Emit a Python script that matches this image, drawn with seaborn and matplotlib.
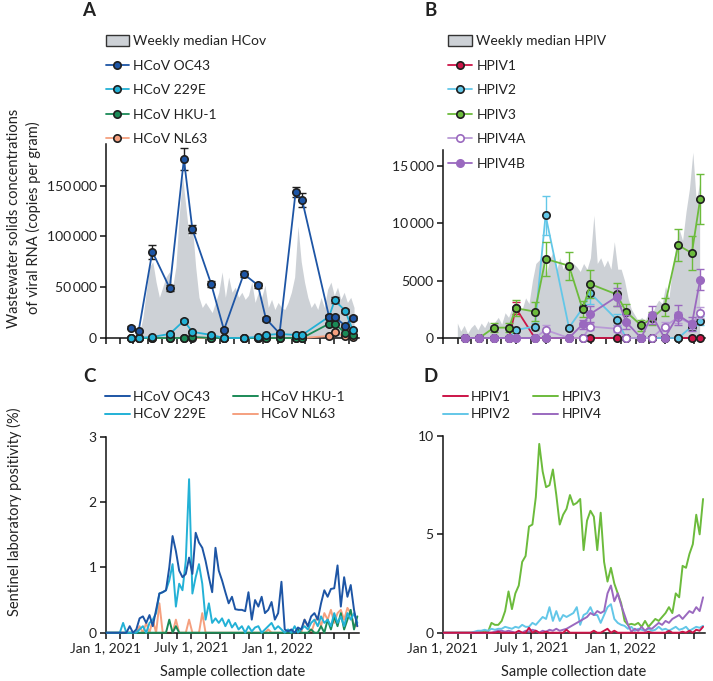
import numpy as np
import pandas as pd
import matplotlib
matplotlib.use("Agg")
import matplotlib.pyplot as plt
import matplotlib.dates as mdates
import seaborn as sns
from matplotlib.lines import Line2D
from matplotlib.patches import Patch

sns.set_theme(style="ticks")
plt.rcParams['font.family'] = ['Lato', 'DejaVu Sans']
plt.rcParams['axes.linewidth'] = 1.1

# ---------------- Panel A: wastewater HCoV ----------------
a_dates = pd.to_datetime([
    "2021-02-23", "2021-03-12", "2021-04-10", "2021-05-17", "2021-06-16", "2021-07-04",
    "2021-08-13", "2021-09-09", "2021-10-21", "2021-11-20", "2021-12-07", "2022-01-05",
    "2022-02-08", "2022-02-22", "2022-04-20", "2022-05-02", "2022-05-24", "2022-06-09"])
hcov_oc43 = [10000, 7000, 85000, 49000, 176000, 107000, 53000, 8000, 63000, 52000, 19000, 4500,
             143500, 135500, 21000, 21000, 12000, 20000]
hcov_oc43_err = [1500, 1200, 7000, 3000, 11000, 4000, 3000, 1500, 3000, 2500, 2000, 1000,
                 5000, 7000, 2000, 2000, 1500, 2000]
hcov_229e = [0, 0, 1000, 4000, 17000, 6000, 3000, 0, 0, 1000, 3000, 4000, 3000, 3000,
             21000, 37000, 27000, 8000]
hcov_229e_err = [0, 0, 300, 600, 1500, 800, 500, 0, 0, 300, 500, 600, 500, 500,
                 2000, 3000, 2000, 1000]
hcov_hku1 = [0, 0, 0, 0, 0, 1000, 0, 0, 0, 0, 0, 0, 0, 0, 14000, 14000, 5000, 3000]
hcov_nl63 = [0, 0, 0, 0, 0, 0, 0, 0, 0, 0, 0, 0, 0, 0, 2000, 5500, 1500, 1000]

a_gray_dates = pd.date_range("2021-03-07", periods=67, freq="7D")
a_gray = [0, 5, 20, 45, 70, 75, 55, 40, 50, 60, 65, 50, 70, 120, 160, 130, 100, 110, 70, 40,
          30, 35, 30, 25, 35, 45, 65, 40, 60, 45, 50, 40, 45, 38, 42, 55, 35, 45, 40, 52,
          30, 38, 28, 35, 30, 28, 35, 45, 60, 110, 75, 55, 40, 30, 35, 28, 40, 30, 48, 55,
          42, 50, 38, 45, 35, 40, 30]
a_gray = [v * 1000 for v in a_gray]

# ---------------- Panel B: wastewater HPIV ----------------
b_dates = pd.to_datetime([
    "2021-02-15", "2021-03-17", "2021-04-16", "2021-05-17", "2021-05-31", "2021-07-09",
    "2021-07-31", "2021-09-17", "2021-10-15", "2021-10-31", "2021-12-24", "2022-01-12",
    "2022-02-12", "2022-03-06", "2022-04-01", "2022-04-29", "2022-05-27", "2022-06-13"])
hpiv1 = [0, 0, 0, 0, 2600, 0, 0, 0, 0, 0, 0, 0, 0, 0, 0, 0, 0, 0]
hpiv1_err = [0, 0, 0, 0, 500, 0, 0, 0, 0, 0, 0, 0, 0, 0, 0, 0, 0, 0]
hpiv2 = [0, 0, 0, 0, 700, 1000, 10700, 900, 2600, 3900, 1600, 0, 0, 0, 0, 0, 1000, 1500]
hpiv2_err = [0, 0, 0, 0, 200, 300, 1700, 200, 300, 900, 500, 0, 0, 0, 0, 0, 300, 400]
hpiv3 = [0, 0, 900, 900, 2600, 2300, 6900, 6300, 2500, 4700, 3800, 2300, 1100, 1700, 2700,
         8100, 7400, 12100]
hpiv3_err = [0, 0, 400, 400, 700, 800, 1500, 1200, 700, 1200, 1000, 700, 500, 600, 800,
             1400, 1500, 2200]
hpiv4a = [0, 0, 0, 0, 0, 0, 700, 0, 0, 1000, 800, 0, 0, 0, 1000, 1800, 1200, 2200]
hpiv4a_err = [0, 0, 0, 0, 0, 0, 400, 0, 0, 300, 300, 0, 0, 0, 400, 500, 400, 500]
hpiv4b = [0, 0, 0, 0, 0, 0, 0, 0, 1200, 2100, 3600, 1400, 0, 2000, 0, 2000, 1200, 5100]
hpiv4b_err = [0, 0, 0, 0, 0, 0, 0, 0, 400, 700, 800, 600, 0, 800, 0, 900, 600, 900]

b_gray_dates = pd.date_range("2021-01-31", periods=72, freq="7D")
b_gray = [1300, 600, 1100, 400, 900, 1200, 700, 1300, 900, 1500, 1000, 1400, 1800, 1200,
          2200, 1800, 2600, 2000, 3000, 2500, 3500, 3000, 5000, 6500, 6800, 7200, 5500, 6800,
          7500, 5800, 7000, 6000, 6800, 5500, 6500, 6200, 5800, 6500, 6000, 7000, 10700, 6500,
          7000, 6200, 6800, 6000, 8400, 6000, 6000, 5000, 3500, 2500, 2000, 1500, 1800, 1500,
          2200, 2000, 2800, 3300, 3000, 4500, 3500, 6000, 8000, 9500, 8500, 11000, 13000,
          16200, 12000, 13500]

# ---------------- Panels C and D: sentinel positivity ----------------
weeks = pd.date_range("2021-01-03", periods=77, freq="7D")
pos_oc43 = [0, 0, 0, 0, 0, 0, 0, 0.1, 0.0, 0.05, 0.22, 0.25, 0.15, 0.27, 0.1, 0.35, 0.6, 0.62,
            0.65, 1.0, 1.48, 1.25, 0.95, 0.85, 0.9, 1.15, 0.9, 1.53, 1.38, 1.3, 1.1, 0.85,
            0.62, 1.3, 0.95, 0.8, 0.62, 0.45, 0.55, 0.36, 0.35, 0.35, 0.33, 0.62, 0.2, 0.5,
            0.4, 0.55, 0.3, 0.35, 0.47, 0.2, 0.3, 0.78, 0.05, 0.02, 0.05, 0, 0.08, 0.05, 0.2,
            0.1, 0.25, 0.3, 0.2, 0.45, 0.65, 0.55, 0.67, 0.68, 1.03, 0.4, 0.85, 0.55, 0.73,
            0.35, 0.1]
pos_229e = [0, 0, 0, 0, 0, 0.15, 0, 0, 0, 0, 0.05, 0.1, 0, 0.15, 0.2, 0.3, 0.6, 0.62, 0.65,
            0.8, 1.05, 0.4, 0.75, 0.65, 1.1, 2.35, 0.6, 0.85, 1.05, 0.75, 0.2, 0.45, 0.15,
            0.22, 0.15, 0.22, 0.1, 0.2, 0.08, 0.15, 0.05, 0.1, 0, 0.1, 0.02, 0.08, 0.1, 0,
            0.05, 0.1, 0.15, 0.05, 0.1, 0.05, 0, 0.05, 0, 0.1, 0, 0.05, 0.1, 0.05, 0.15, 0.2,
            0.1, 0.25, 0.15, 0.2, 0.1, 0.3, 0.15, 0.25, 0.1, 0.3, 0.2, 0.3, 0.15]
pos_hku1 = [0, 0, 0, 0, 0, 0, 0, 0, 0, 0, 0, 0, 0, 0, 0, 0, 0, 0, 0, 0.2, 0, 0.1, 0, 0, 0,
            0, 0, 0, 0, 0, 0, 0, 0, 0, 0, 0, 0, 0, 0, 0, 0, 0, 0, 0, 0, 0, 0, 0, 0, 0, 0, 0,
            0, 0, 0, 0, 0, 0, 0.05, 0, 0, 0, 0.05, 0, 0, 0.1, 0, 0.2, 0.05, 0.25, 0.1, 0.3,
            0.05, 0.2, 0.35, 0.05, 0.25]
pos_nl63 = [0, 0, 0, 0, 0, 0, 0, 0, 0, 0, 0.1, 0, 0.15, 0, 0.2, 0, 0.45, 0, 0, 0, 0, 0.2, 0,
            0, 0, 0.2, 0, 0, 0, 0.3, 0, 0, 0, 0, 0, 0, 0, 0, 0, 0, 0, 0, 0, 0, 0, 0, 0, 0, 0,
            0.05, 0, 0, 0, 0, 0, 0, 0, 0, 0, 0, 0.2, 0.1, 0, 0.15, 0.25, 0.1, 0.3, 0.2, 0.35,
            0.15, 0.3, 0.35, 0.2, 0.38, 0.3, 0.1, 0.1]

pos_hpiv1 = [0, 0, 0, 0, 0, 0, 0, 0, 0, 0, 0, 0, 0, 0, 0, 0, 0.05, 0, 0, 0, 0, 0, 0.1, 0, 0,
             0.25, 0, 0.1, 0, 0, 0.05, 0, 0, 0, 0, 0, 0.15, 0, 0, 0, 0, 0, 0, 0, 0.1, 0, 0,
             0.1, 0.2, 0, 0.1, 0, 0, 0, 0, 0, 0, 0, 0, 0, 0.05, 0, 0, 0, 0, 0, 0.1, 0, 0, 0,
             0.05, 0, 0.1, 0, 0.15, 0.1, 0.3]
pos_hpiv2 = [0, 0, 0, 0, 0, 0, 0, 0, 0, 0.05, 0.1, 0.1, 0.15, 0.1, 0.2, 0.15, 0.2, 0.2, 0.3,
             0.25, 0.2, 0.3, 0.25, 0.4, 0.3, 0.3, 0.5, 0.4, 0.6, 0.8, 0.7, 1.3, 0.6, 1.1, 0.6,
             0.9, 0.8, 0.9, 1.0, 1.3, 0.4, 0.9, 1.0, 1.3, 0.9, 0.9, 0.5, 0.9, 1.3, 1.45, 0.7,
             0.5, 0.4, 0.35, 0.2, 0.3, 0.1, 0.2, 0.15, 0.1, 0.2, 0.1, 0.15, 0.3, 0.15, 0.2,
             0.1, 0.2, 0.3, 0.15, 0.2, 0.3, 0.1, 0.2, 0.3, 0.25, 0.35]
pos_hpiv3 = [0, 0, 0, 0, 0, 0, 0, 0, 0, 0, 0, 0.05, 0.1, 0.05, 0.5, 0.4, 0.4, 0.6, 1.1, 2.1,
             1.2, 2.0, 2.4, 3.6, 3.9, 5.4, 5.5, 6.9, 9.6, 8.2, 7.4, 7.5, 8.3, 7.0, 5.5, 6.0,
             6.3, 7.0, 6.5, 6.6, 6.8, 4.2, 5.7, 6.2, 5.9, 4.2, 6.1, 3.6, 2.6, 3.3, 2.5, 2.0,
             1.5, 0.6, 0.4, 0.45, 0.4, 0.5, 0.3, 0.6, 0.3, 0.5, 0.7, 0.6, 0.8, 1.0, 1.3, 1.0,
             2.0, 1.8, 3.4, 3.3, 4.0, 4.5, 6.0, 5.0, 6.8]
pos_hpiv4 = [0, 0, 0, 0, 0, 0, 0, 0, 0, 0, 0, 0, 0, 0, 0, 0.05, 0.1, 0.1, 0.05, 0.1, 0.05, 0,
             0.05, 0, 0.1, 0.05, 0.15, 0.1, 0, 0.1, 0.05, 0.15, 0.1, 0.2, 0.1, 0.15, 0.2, 0.3,
             0.4, 0.5, 0.6, 0.7, 0.8, 1.0, 0.9, 1.1, 1.0, 1.1, 2.0, 2.4, 1.6, 2.0, 1.4, 0.9,
             0.4, 0.05, 0.2, 0.1, 0.3, 0.1, 0.25, 0.2, 0.35, 0.5, 0.4, 0.6, 0.5, 0.7, 0.8, 0.9,
             0.7, 0.9, 1.1, 1.0, 1.3, 1.1, 1.8]

# ---------------- styling ----------------
C_OC43, C_229E, C_HKU1, C_NL63 = "#1d55a5", "#23b1d6", "#1b8a57", "#f5a07f"
C_P1, C_P2, C_P3, C_P4 = "#cc1447", "#63c7e8", "#6cbb3c", "#9a69bf"
C_P4A = "#b99ad6"
GRAY = "#cdd1d6"
EDGE = "#1f1f1f"
MS = 5.3

fig = plt.figure(figsize=(7.13, 6.81), dpi=100)
axA = fig.add_axes([0.1482, 0.5037, 0.3556, 0.2849])
axB = fig.add_axes([0.6209, 0.5037, 0.3679, 0.2761])
axC = fig.add_axes([0.1482, 0.0709, 0.3556, 0.2878])
axD = fig.add_axes([0.6209, 0.0709, 0.3679, 0.2888])

xmin, xmax = pd.Timestamp("2021-01-01"), pd.Timestamp("2022-06-23")
major = pd.to_datetime(["2021-01-01", "2021-07-01", "2022-01-01"])
major_labels = ["Jan 1, 2021", "July 1, 2021", "Jan 1, 2022"]


def series(ax, dates, vals, err, color, face, edge, ecolor, z, ms=MS, lw=1.3):
    if err is not None:
        ax.errorbar(dates, vals, yerr=err, fmt="none", ecolor=ecolor, elinewidth=1.0,
                    capsize=3.0, capthick=1.0, zorder=z - 0.5, clip_on=False)
    sns.lineplot(x=dates, y=vals, ax=ax, color=color, lw=lw, marker="o", markersize=ms,
                 markerfacecolor=face, markeredgecolor=edge, markeredgewidth=1.2,
                 zorder=z, clip_on=False, estimator=None, sort=False)


# Panel A
axA.fill_between(a_gray_dates, a_gray, 0, color=GRAY, lw=0, zorder=1)
series(axA, a_dates, hcov_nl63, None, C_NL63, C_NL63, EDGE, EDGE, 3)
series(axA, a_dates, hcov_hku1, None, C_HKU1, C_HKU1, EDGE, EDGE, 4)
series(axA, a_dates, hcov_229e, hcov_229e_err, C_229E, C_229E, EDGE, EDGE, 5)
series(axA, a_dates, hcov_oc43, hcov_oc43_err, C_OC43, C_OC43, EDGE, EDGE, 6)
axA.set_ylim(0, 191000)
axA.set_yticks([0, 50000, 100000, 150000])
axA.set_yticklabels(["0", "50\u2009000", "100\u2009000", "150\u2009000"])

# Panel B
axB.fill_between(b_gray_dates, b_gray, 0, color=GRAY, lw=0, zorder=1)
series(axB, b_dates, hpiv1, hpiv1_err, C_P1, C_P1, EDGE, C_P1, 3)
series(axB, b_dates, hpiv2, hpiv2_err, C_P2, C_P2, EDGE, C_P2, 4)
series(axB, b_dates, hpiv3, hpiv3_err, C_P3, C_P3, EDGE, C_P3, 5)
series(axB, b_dates, hpiv4a, hpiv4a_err, C_P4A, "white", C_P4, C_P4A, 6)
series(axB, b_dates, hpiv4b, hpiv4b_err, C_P4, C_P4, C_P4, C_P4, 7)
axB.set_ylim(0, 16400)
axB.set_yticks([0, 5000, 10000, 15000])
axB.set_yticklabels(["0", "5000", "10\u2009000", "15\u2009000"])

# Panel C
for vals, col, z in ((pos_nl63, C_NL63, 2), (pos_hku1, C_HKU1, 3), (pos_229e, C_229E, 4),
                     (pos_oc43, C_OC43, 5)):
    sns.lineplot(x=weeks, y=vals, ax=axC, color=col, lw=1.4, zorder=z, estimator=None,
                 clip_on=False)
axC.set_ylim(0, 3)
axC.set_yticks([0, 1, 2, 3])

# Panel D
for vals, col, z in ((pos_hpiv1, C_P1, 5), (pos_hpiv2, C_P2, 3), (pos_hpiv3, C_P3, 2),
                     (pos_hpiv4, C_P4, 4)):
    sns.lineplot(x=weeks, y=vals, ax=axD, color=col, lw=1.4, zorder=z, estimator=None,
                 clip_on=False)
axD.set_ylim(0, 10)
axD.set_yticks([0, 5, 10])

for ax in (axA, axB, axC, axD):
    sns.despine(ax=ax)
    ax.set_xlim(xmin, xmax)
    ax.xaxis.set_minor_locator(mdates.MonthLocator())
    ax.set_xticks(major)
    ax.tick_params(axis="both", which="both", direction="out", length=4.5, width=1.1,
                   color="#111", labelsize=10, labelcolor="#222", pad=2)
    ax.spines["left"].set_color("#111")
    ax.spines["bottom"].set_color("#111")
    ax.grid(False)
    ax.set_xlabel("")
    ax.set_ylabel("")

for ax in (axA, axB):
    ax.set_xticklabels([""] * 3)
for ax in (axC, axD):
    ax.set_xticklabels(major_labels)
    ax.set_xlabel("Sample collection date", fontsize=10.5, color="#222", labelpad=8)

# Legends
def mk(color, face, edge):
    return Line2D([0], [0], color=color, lw=1.3, marker="o", markersize=MS,
                  markerfacecolor=face, markeredgecolor=edge, markeredgewidth=1.2)

legA = [Patch(facecolor=GRAY, edgecolor="#333", lw=1.0),
        mk(C_OC43, C_OC43, EDGE), mk(C_229E, C_229E, EDGE), mk(C_HKU1, C_HKU1, EDGE),
        mk(C_NL63, C_NL63, EDGE)]
labA = ["Weekly median HCov", "HCoV OC43", "HCoV 229E", "HCoV HKU-1", "HCoV NL63"]
legB = [Patch(facecolor=GRAY, edgecolor="#333", lw=1.0),
        mk(C_P1, C_P1, EDGE), mk(C_P2, C_P2, EDGE), mk(C_P3, C_P3, EDGE),
        mk(C_P4A, "white", C_P4), mk(C_P4, C_P4, C_P4)]
labB = ["Weekly median HPIV", "HPIV1", "HPIV2", "HPIV3", "HPIV4A", "HPIV4B"]
common = dict(loc="upper left", frameon=False, fontsize=10, handlelength=1.7,
              handleheight=0.9, handletextpad=0.3, labelspacing=0.86, borderaxespad=0,
              borderpad=0, labelcolor="#222")
fig.legend(legA, labA, bbox_to_anchor=(0.148, 0.949), **common)
fig.legend(legB, labB, bbox_to_anchor=(0.629, 0.949), **common)

lc = lambda c: Line2D([0], [0], color=c, lw=1.4)
commonC = dict(loc="upper left", frameon=False, fontsize=10, handlelength=1.8,
               handletextpad=0.25, labelspacing=0.4, borderaxespad=0, borderpad=0,
               ncol=2, columnspacing=1.6, labelcolor="#222")
fig.legend([lc(C_OC43), lc(C_229E), lc(C_HKU1), lc(C_NL63)],
           ["HCoV OC43", "HCoV 229E", "HCoV HKU-1", "HCoV NL63"],
           bbox_to_anchor=(0.147, 0.426), **commonC)
fig.legend([lc(C_P1), lc(C_P2), lc(C_P3), lc(C_P4)],
           ["HPIV1", "HPIV2", "HPIV3", "HPIV4"],
           bbox_to_anchor=(0.621, 0.426), **commonC)

# Panel letters
for x, y, t in ((89, 11, "A"), (431, 11, "B"), (89, 376, "C"), (431, 376, "D")):
    fig.text(x / 713, 1 - y / 681, t, fontsize=13.5, fontweight="bold", color="#222",
             ha="center", va="center")

# Y labels
fig.text(24 / 713, 1 - 218 / 681,
         "Wastewater solids concentrations\nof viral RNA (copies per gram)",
         rotation=90, ha="center", va="center", fontsize=10.5, color="#222",
         multialignment="center", linespacing=1.35)
fig.text(14 / 713, 1 - 512 / 681, "Sentinel laboratory positivity (%)",
         rotation=90, ha="center", va="center", fontsize=10.5, color="#222")

fig.savefig("out.png", dpi=100)
